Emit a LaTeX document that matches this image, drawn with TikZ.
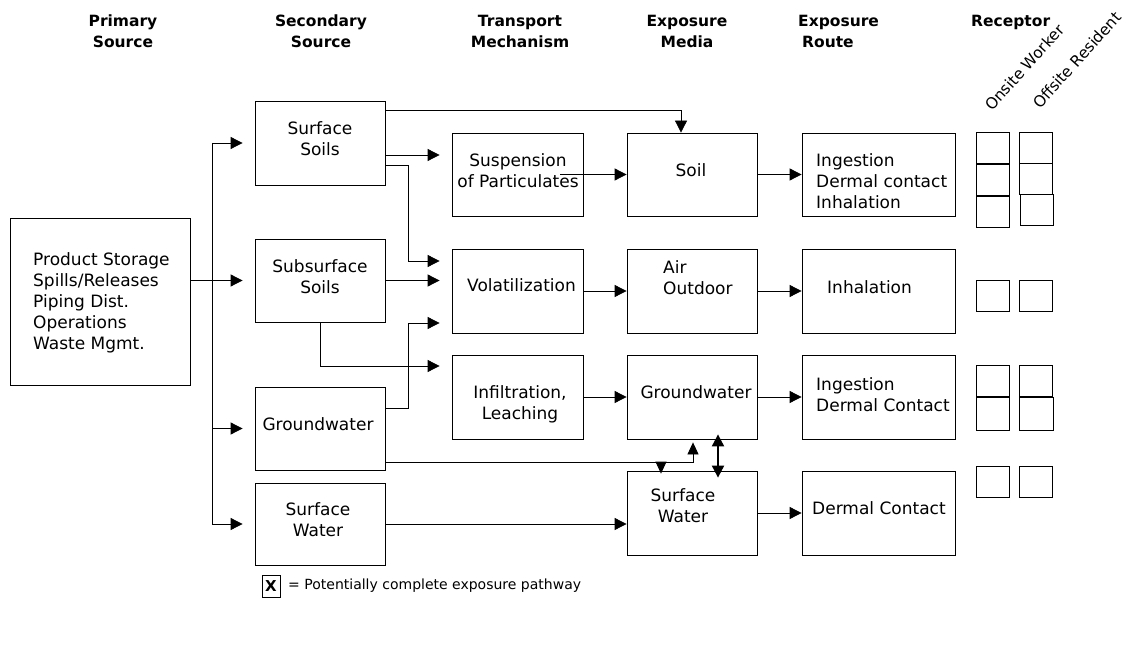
\documentclass[tikz,border=0pt]{standalone}
\usepackage{fontspec}
\setmainfont{DejaVu Sans}
\usetikzlibrary{arrows.meta,calc}
\begin{document}
\begin{tikzpicture}[x=1pt,y=-1pt,
  box/.style={draw, line width=0.8pt, inner sep=0pt},
  rbox/.style={draw, line width=0.8pt, inner sep=0pt, minimum width=33pt, minimum height=31pt},
  txt/.style={font=\fontsize{17}{21}\selectfont, inner sep=0pt},
  hdr/.style={font=\fontsize{15.5}{21}\selectfont\bfseries, inner sep=0pt, align=center},
  rot/.style={font=\fontsize{15.5}{17}\selectfont, inner sep=0pt, rotate=48, anchor=base west},
  conn/.style={line width=0.8pt},
  arr/.style={line width=0.8pt, -{Triangle[length=12pt,width=12pt]}},
  arrs/.style={line width=0.8pt, -{Triangle[length=12pt,width=11pt]}},
  dbl/.style={line width=2pt, {Triangle[length=12pt,width=12pt]}-{Triangle[length=12pt,width=12pt]}}
]
\useasboundingbox (0,0) rectangle (1138,652);
% headers
\node[hdr, anchor=north] (h1) at (123,15) {Primary\\Source};
\node[hdr, anchor=north] (h2) at (321,15) {Secondary\\Source};
\node[hdr, anchor=north] (h3) at (520,15) {Transport\\Mechanism};
\node[hdr, anchor=north] (h4) at (687,15) {Exposure\\Media};
\node[hdr, anchor=north west, align=left] (h5) at (798,15) {Exposure\\\hspace*{4pt}Route};
\node[hdr, anchor=base west] (h6) at (971,27) {Receptor};
\node[rot] (on) at (992,112) {Onsite Worker};
\node[rot] (off) at (1040,110) {Offsite Resident};

% boxes
\node[box, minimum width=180pt, minimum height=167pt] (prim) at (100,301.5) {};
\node[box, minimum width=130pt, minimum height=84pt] (surfs) at (320,143) {};
\node[box, minimum width=130pt, minimum height=83pt] (subs) at (320,280.5) {};
\node[box, minimum width=130pt, minimum height=83pt] (gw) at (320,428.5) {};
\node[box, minimum width=130pt, minimum height=82pt] (sw) at (320,524) {};
\node[box, minimum width=131pt, minimum height=83pt] (susp) at (517.5,174.5) {};
\node[box, minimum width=131pt, minimum height=84pt] (vol) at (517.5,291) {};
\node[box, minimum width=131pt, minimum height=84pt] (inf) at (517.5,397) {};
\node[box, minimum width=130pt, minimum height=83pt] (soil) at (692,174.5) {};
\node[box, minimum width=130pt, minimum height=84pt] (air) at (692,291) {};
\node[box, minimum width=130pt, minimum height=84pt] (gwm) at (692,397) {};
\node[box, minimum width=130pt, minimum height=84pt] (swm) at (692,513) {};
\node[box, minimum width=153pt, minimum height=83pt] (rt1) at (878.5,174.5) {};
\node[box, minimum width=153pt, minimum height=84pt] (rt2) at (878.5,291) {};
\node[box, minimum width=153pt, minimum height=84pt] (rt3) at (878.5,397) {};
\node[box, minimum width=153pt, minimum height=84pt] (rt4) at (878.5,513) {};

% box texts
\node[txt, anchor=north west, align=left] (prim-t) at (33,252) {Product Storage\\Spills/Releases\\Piping Dist.\\Operations\\Waste Mgmt.};
\node[txt, anchor=north, align=center] (surfs-t) at (320,121) {Surface\\Soils};
\node[txt, anchor=north, align=center] (subs-t) at (320,259) {Subsurface\\Soils};
\node[txt, anchor=north] (gw-t) at (318,417) {Groundwater};
\node[txt, anchor=north, align=center] (sw-t) at (318,502) {Surface\\Water};
\node[txt, anchor=north, align=center] (susp-t) at (518,153) {Suspension\\of Particulates};
\node[txt, anchor=north west] (vol-t) at (467,278) {Volatilization};
\node[txt, anchor=north, align=center] (inf-t) at (520,385) {Infiltration,\\Leaching};
\node[txt, anchor=north] (soil-t) at (691,163) {Soil};
\node[txt, anchor=north west, align=left] (air-t) at (663,260) {Air\\Outdoor};
\node[txt, anchor=north] (gwm-t) at (696,385) {Groundwater};
\node[txt, anchor=north, align=center] (swm-t) at (683,488) {Surface\\Water};
\node[txt, anchor=north west, align=left] (rt1-t) at (816,153) {Ingestion\\Dermal contact\\Inhalation};
\node[txt, anchor=north west] (rt2-t) at (827,280) {Inhalation};
\node[txt, anchor=north west, align=left] (rt3-t) at (816,377) {Ingestion\\Dermal Contact};
\node[txt, anchor=north west] (rt4-t) at (812,501) {Dermal Contact};

% receptor boxes
\node[rbox] (r1a) at (992.5,147.5) {};
\node[rbox] (r1b) at (992.5,179.5) {};
\node[rbox] (r1c) at (992.5,211.5) {};
\node[rbox] (r1d) at (1036,147.5) {};
\node[rbox] (r1e) at (1036,178.5) {};
\node[rbox] (r1f) at (1036.5,209.5) {};
\node[rbox] (r2a) at (992.5,296) {};
\node[rbox] (r2b) at (1036,296) {};
\node[rbox] (r3a) at (992.5,381) {};
\node[rbox, minimum height=33pt] (r3b) at (992.5,413.5) {};
\node[rbox] (r3c) at (1036,381) {};
\node[rbox, minimum height=33pt, minimum width=34pt] (r3d) at (1036,413.5) {};
\node[rbox] (r4a) at (992.5,482) {};
\node[rbox] (r4b) at (1036,482) {};

% trunk from primary source
\coordinate (tt) at (212,143);
\coordinate (tb) at (212,524);
\draw[conn] (tt) -- (tb);
\draw[arr, shorten >=12pt] (prim.east |- subs.west) -- (subs.west);
\draw[arr, shorten >=12pt] (tt) -- (surfs.west);
\draw[arr, shorten >=12pt] (tt |- gw.west) -- (gw.west);
\draw[arr, shorten >=12pt] (tb) -- (sw.west);

% secondary -> transport
\coordinate (jx) at (408,0);
\coordinate (s0) at ([yshift=-10pt]surfs.north east);
\coordinate (soilin) at ([xshift=-11pt]soil.north);
\draw[arr] (s0) -| (soilin);
\coordinate (s1) at ([yshift=-12pt]surfs.east);
\draw[arr, shorten >=12pt] (s1) -- (s1 -| susp.west);
\coordinate (s2) at ([yshift=-22pt]surfs.east);
\coordinate (v1) at ([yshift=30pt]vol.west);
\draw[arr, shorten >=12pt] (s2) -| (jx |- v1) -- (v1);
\draw[arr, shorten >=12pt] (subs.east) -- (subs.east -| vol.west);
\coordinate (g1) at ([yshift=20pt]gw.east);
\coordinate (v3) at ([yshift=-32pt]vol.west);
\draw[arr, shorten >=12pt] (g1) -| (jx |- v3) -- (v3);
\coordinate (i1) at ([yshift=31pt]inf.west);
\draw[arr, shorten >=12pt] (subs.south) |- (i1);

% transport -> media -> route
\draw[arr] ([xshift=-23pt]susp.east) -- (soil.west);
\draw[arr] (soil.east) -- (rt1.west);
\draw[arr] (vol.east) -- (air.west);
\draw[arr] (air.east) -- (rt2.west);
\draw[arr] (inf.east) -- (gwm.west);
\draw[arr] (gwm.east) -- (rt3.west);
\draw[arr] (sw.east) -- (sw.east -| swm.west);
\draw[arr] (swm.east) -- (rt4.west);

% groundwater to media
\coordinate (g2) at ([yshift=-33.5pt]gw.east);
\coordinate (gup) at ([xshift=1pt,yshift=-3pt]gwm.south);
\draw[arrs] (g2) -| (gup);
\coordinate (swt) at ([xshift=-31pt,yshift=-3pt]swm.north);
\draw[arrs] (g2 -| swt) -- (swt);
\draw[dbl] ([xshift=26pt,yshift=5pt]gwm.south) -- ([xshift=26pt,yshift=-7pt]swm.north);

% legend
\node[draw, line width=0.8pt, inner sep=0pt, minimum width=18pt, minimum height=22pt, font=\fontsize{15}{17}\selectfont\bfseries] (leg) at (271,586) {X};
\node[anchor=west, inner sep=0pt, font=\fontsize{14}{16}\selectfont] (leg-t) at (288,586) {= Potentially complete exposure pathway};
\end{tikzpicture}
\end{document}
